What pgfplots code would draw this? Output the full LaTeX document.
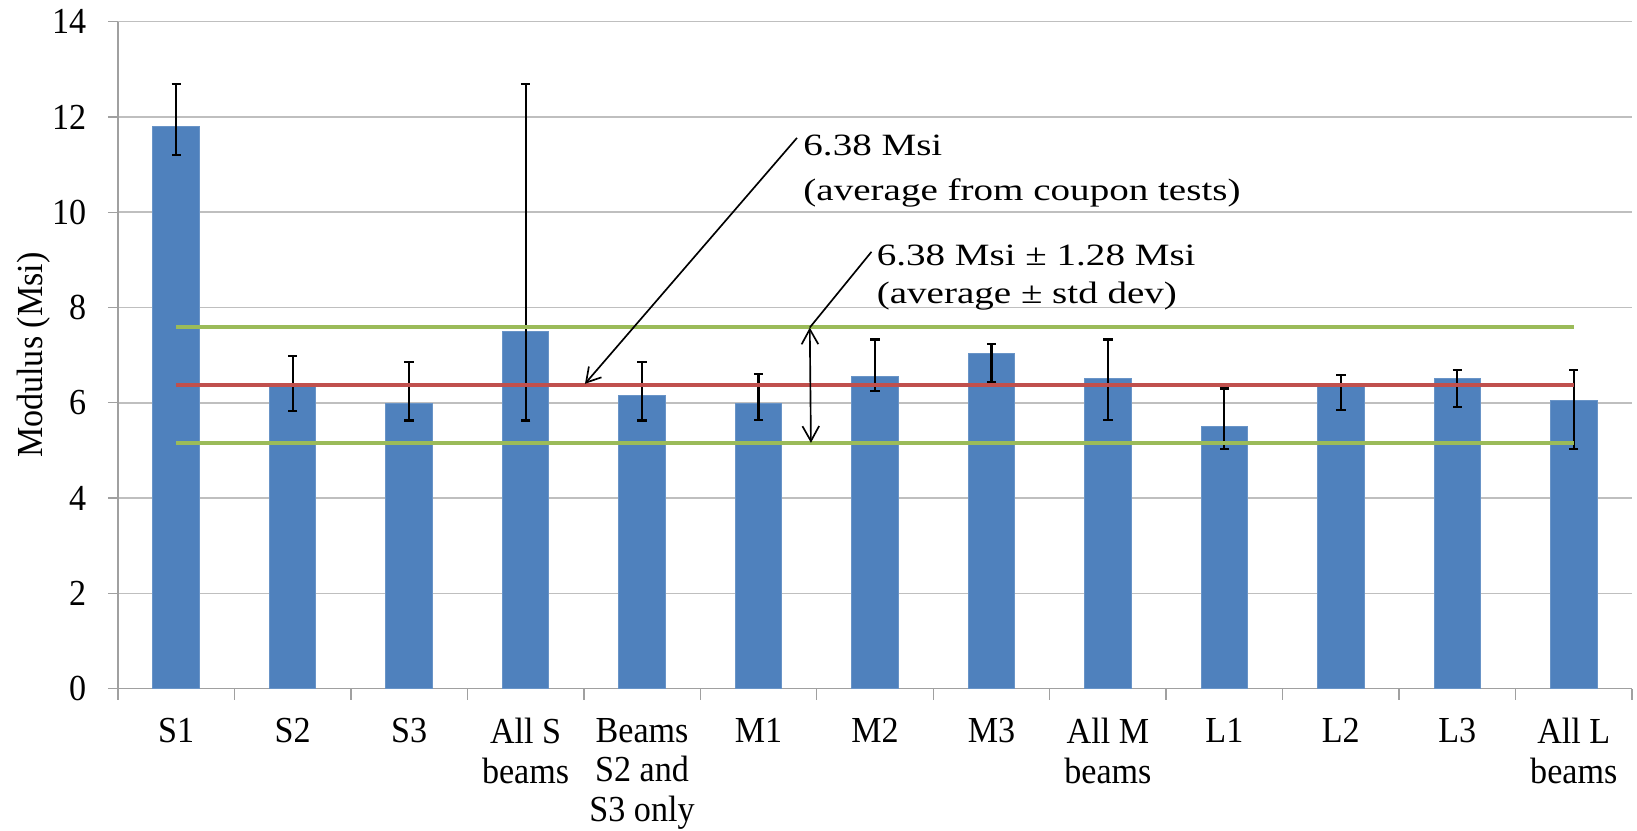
\documentclass[border=0pt]{standalone}
\usepackage{pgfplots}
\pgfplotsset{compat=1.18}
\usepackage{pgfplotstable}
\usepackage{fontspec}
\setmainfont[FakeStretch=0.93]{Liberation Serif}
\newfontfamily\annfont[FakeStretch=1.26]{Liberation Serif}
\usetikzlibrary{arrows.meta}
\definecolor{barblue}{HTML}{4F81BD}
\definecolor{linered}{HTML}{C0504D}
\definecolor{linegreen}{HTML}{9BBB59}
\definecolor{gridgray}{HTML}{BFBFBF}
\definecolor{axisgray}{HTML}{A0A0A0}

\pgfplotstableread{
x y ep em
0 11.80 0.89 0.59
1 6.35 0.64 0.53
2 5.99 0.86 0.36
3 7.49 5.20 1.86
4 6.16 0.69 0.53
5 5.99 0.61 0.35
6 6.56 0.77 0.31
7 7.03 0.20 0.60
8 6.50 0.83 0.86
9 5.50 0.80 0.47
10 6.37 0.21 0.52
11 6.50 0.19 0.58
12 6.04 0.65 1.01
}\modulus

\begin{document}
\begin{tikzpicture}
\path[use as bounding box] (-35.4pt,-42.7pt) rectangle (455.7pt,206.6pt);
\begin{axis}[
  at={(0,0)}, anchor=south west,
  scale only axis,
  width=454.2pt, height=200.1pt,
  xmin=-0.5, xmax=12.5,
  ymin=0, ymax=14,
  ytick={0,2,...,14},
  xtick={0,...,12},
  xticklabels={S1,S2,S3,{All S\\beams},{Beams\\S2 and\\S3 only},M1,M2,M3,{All M\\beams},L1,L2,L3,{All L\\beams}},
  minor xtick={-0.5,0.5,...,12.5},
  major x tick style={draw=none},
  minor x tick style={draw=axisgray, line width=0.4pt},
  y tick style={draw=axisgray, line width=0.4pt},
  minor tick length=3.3pt,
  major tick length=3pt,
  tick align=outside,
  axis x line*=bottom,
  axis y line*=left,
  axis line style={draw=axisgray, line width=0.45pt},
  ymajorgrids,
  grid style={draw=gridgray, line width=0.45pt},
  /pgf/number format/assume math mode=true,
  tick label style={font=\fontsize{11}{11.8}\selectfont},
  xticklabel style={align=center, yshift=-2.4pt},
  yticklabel style={xshift=-3pt},
  ylabel={Modulus (Msi)},
  ylabel style={font=\fontsize{11}{11}\selectfont, at={(axis description cs:-0.056,0.5)}, anchor=center},
  clip=false,
]
\addplot[ybar, bar width=0.4, fill=barblue, draw=barblue!85!white, line width=0.3pt,
  error bars/.cd, y dir=both, y explicit,
  error bar style={black, line width=0.65pt},
  error mark options={rotate=90, mark size=1.4pt, line width=0.65pt, black}]
  table[x=x, y=y, y error plus=ep, y error minus=em] {\modulus};

\addplot[linegreen, line width=1.2pt, no marks] coordinates {(0,7.60) (12,7.60)};
\addplot[linegreen, line width=1.2pt, no marks] coordinates {(0,5.16) (12,5.16)};
\addplot[linered, line width=1.2pt, no marks] coordinates {(0,6.38) (12,6.38)};

\draw[line width=0.5pt, -{Straight Barb[length=4.2pt, width=5pt]}] (axis cs:5.33,11.56) -- (axis cs:3.51,6.40);
\draw[line width=0.5pt] (axis cs:5.97,9.17) -- (axis cs:5.44,7.58);
\draw[line width=0.5pt, {Straight Barb[length=4.5pt, width=5pt]}-{Straight Barb[length=4.5pt, width=5pt]}] (axis cs:5.44,7.58) -- (axis cs:5.45,5.16);

\node[anchor=base west, inner sep=0pt, font=\annfont\fontsize{9.3}{11}\selectfont] at (axis cs:5.38,11.19) {6.38 Msi};
\node[anchor=base west, inner sep=0pt, font=\annfont\fontsize{9.3}{11}\selectfont] at (axis cs:5.38,10.24) {(average from coupon tests)};
\node[anchor=base west, inner sep=0pt, font=\annfont\fontsize{9.3}{11}\selectfont] at (axis cs:6.01,8.89) {6.38 Msi ± 1.28 Msi};
\node[anchor=base west, inner sep=0pt, font=\annfont\fontsize{9.3}{11}\selectfont] at (axis cs:6.01,8.09) {(average ± std dev)};
\end{axis}
\end{tikzpicture}
\end{document}
